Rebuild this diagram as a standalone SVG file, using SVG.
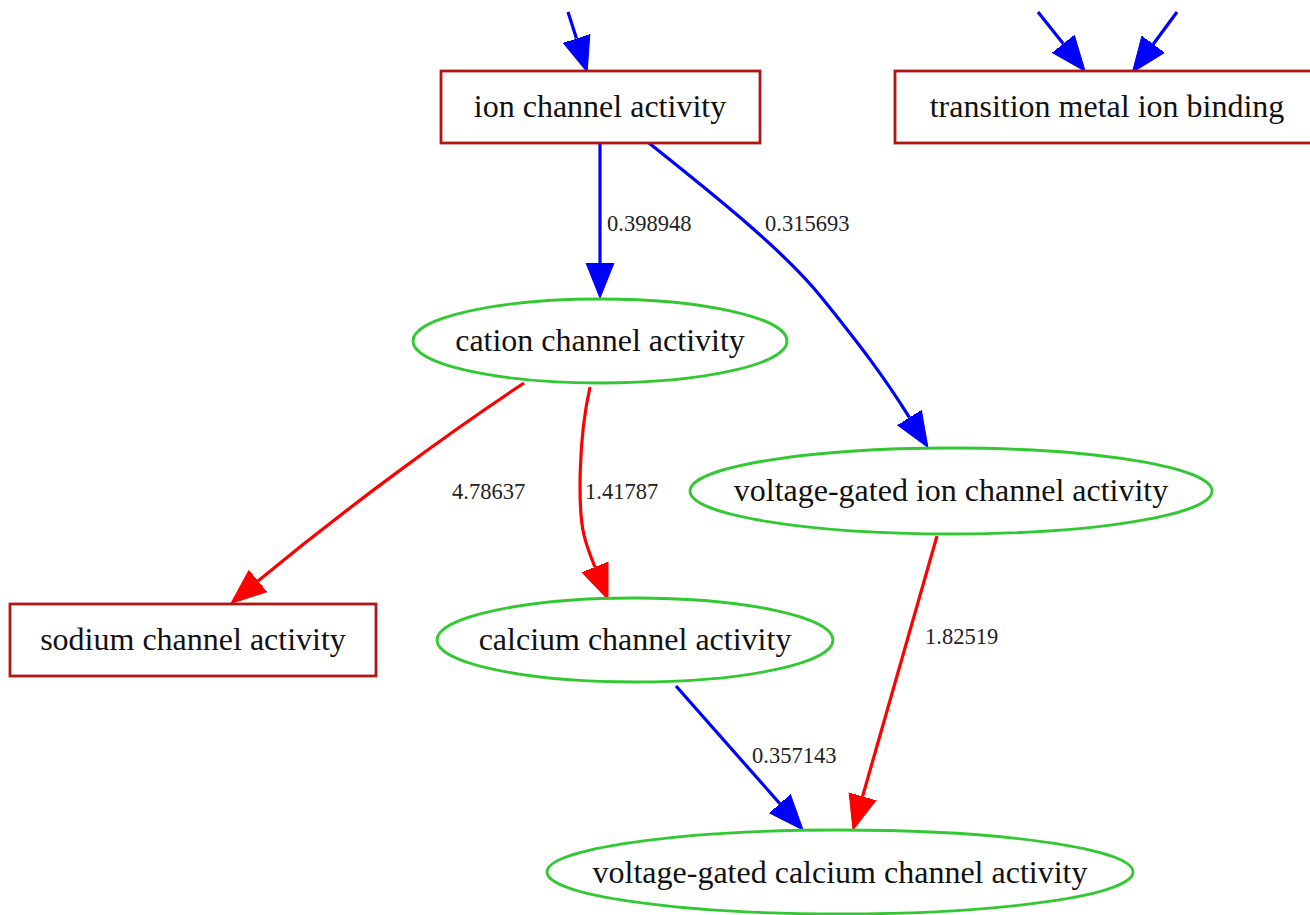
<svg xmlns="http://www.w3.org/2000/svg" width="1310" height="915" viewBox="0 0 1310 915">
<style>
.rect{fill:#fff;stroke:#b01515;stroke-width:2.8}
.ell{fill:#fff;stroke:#32c832;stroke-width:2.8}
.nt{font-family:"Liberation Serif","Times New Roman",serif;font-size:32px;fill:#111;text-anchor:middle}
.el{font-family:"Liberation Serif","Times New Roman",serif;font-size:22.5px;fill:#222}
.b{fill:none;stroke:#0000ff;stroke-width:3.2;marker-end:url(#ab)}
.r{fill:none;stroke:#ff0000;stroke-width:3.2;marker-end:url(#ar)}
</style>
<defs>
<marker id="ab" viewBox="0 -15 37 30" refX="0" refY="0" markerWidth="37" markerHeight="30" markerUnits="userSpaceOnUse" orient="auto"><path d="M0,-14 L35,0 L0,14 Z" fill="#0000ff" stroke="#0000ff" stroke-width="1"/></marker>
<marker id="ar" viewBox="0 -15 37 30" refX="0" refY="0" markerWidth="37" markerHeight="30" markerUnits="userSpaceOnUse" orient="auto"><path d="M0,-14 L35,0 L0,14 Z" fill="#ff0000" stroke="#ff0000" stroke-width="1"/></marker>
</defs>
<rect width="1310" height="915" fill="#fff"/>
<g id="connectors">
<path class="b" d="M568,12 L576.5,38.6"/>
<path class="b" d="M1038,12 L1063.3,43.8"/>
<path class="b" d="M1177,12 L1153.2,44.2"/>
<path class="b" d="M600,143 L600,263"/>
<text class="el" x="607" y="231">0.398948</text>
<path class="b" d="M649,143 C705,188 782,248 822,298 C860,345 885,378 909.5,417.6"/>
<text class="el" x="765" y="231">0.315693</text>
<path class="r" d="M524,383 C450,432 350,505 258,581"/>
<text class="el" x="452" y="499">4.78637</text>
<path class="r" d="M590,387 C578,440 578,510 584,535 C587,548 591,557 595,567"/>
<text class="el" x="585" y="499">1.41787</text>
<path class="r" d="M937,536 L862.6,796.4"/>
<text class="el" x="925" y="644">1.82519</text>
<path class="b" d="M676,686 L779.9,803.7"/>
<text class="el" x="752" y="763">0.357143</text>
</g>
<g id="ion_channel_activity">
<rect class="rect" x="441" y="71" width="319" height="72"/>
<text class="nt" x="600" y="117">ion channel activity</text>
</g>
<g id="transition_metal_ion_binding">
<rect class="rect" x="895" y="71" width="424" height="72"/>
<text class="nt" x="1107" y="117">transition metal ion binding</text>
</g>
<g id="cation_channel_activity">
<ellipse class="ell" cx="600" cy="341" rx="187" ry="42"/>
<text class="nt" x="600" y="351">cation channel activity</text>
</g>
<g id="voltage_gated_ion_channel_activity">
<ellipse class="ell" cx="951" cy="491" rx="261" ry="43"/>
<text class="nt" x="951" y="501">voltage-gated ion channel activity</text>
</g>
<g id="sodium_channel_activity">
<rect class="rect" x="10" y="604" width="366" height="72"/>
<text class="nt" x="193" y="650">sodium channel activity</text>
</g>
<g id="calcium_channel_activity">
<ellipse class="ell" cx="635" cy="640" rx="198" ry="42"/>
<text class="nt" x="635" y="650">calcium channel activity</text>
</g>
<g id="voltage_gated_calcium_channel_activity">
<ellipse class="ell" cx="840" cy="872" rx="293" ry="42"/>
<text class="nt" x="840" y="883">voltage-gated calcium channel activity</text>
</g>
</svg>
